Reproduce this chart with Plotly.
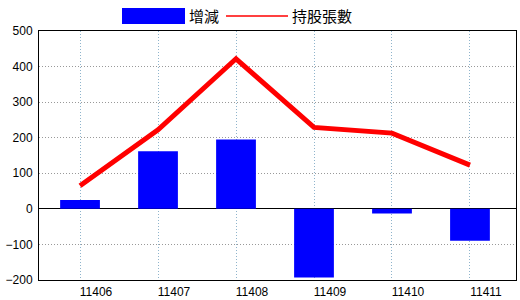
import plotly.graph_objects as go

categories = ["11406", "11407", "11408", "11409", "11410", "11411"]
change_values = [25, 162, 195, -193, -13, -90]
holding_values = [65, 222, 422, 229, 213, 123]
y_ticks = [-200, -100, 0, 100, 200, 300, 400, 500]

x_idx = list(range(len(categories)))

fig = go.Figure()
fig.add_trace(go.Bar(x=x_idx, y=change_values, name="增減", marker=dict(color="#0000FF", line=dict(width=0)),
                     width=0.51, showlegend=False))
fig.add_trace(go.Scatter(x=x_idx, y=holding_values, name="持股張數", mode="lines",
                         line=dict(color="#FF0000", width=5), showlegend=False))

font_family = "Liberation Sans Narrow, Arial, sans-serif"

fig.update_layout(
    width=520, height=300,
    margin=dict(l=39, r=4, t=31, b=20),
    plot_bgcolor="white", paper_bgcolor="white",
    font=dict(family=font_family, size=12, color="black"),
    xaxis=dict(
        tickmode="array", tickvals=x_idx, ticktext=categories,
        range=[-0.526, 5.59], showgrid=True, gridcolor="#8FB4CC", griddash="1px,2px", gridwidth=1,
        showline=True, linecolor="black", linewidth=1, mirror=True, ticks="",
        ticklabelshift=16, ticklabelstandoff=1, zeroline=False, automargin=False,
        tickfont=dict(family=font_family, size=12),
    ),
    yaxis=dict(
        range=[-200, 500], tickvals=y_ticks, showgrid=True, gridcolor="#999999", griddash="1px,2px", gridwidth=1,
        showline=True, linecolor="black", linewidth=1, mirror=True, ticks="",
        zeroline=True, zerolinecolor="black", zerolinewidth=1, ticklabelstandoff=3, automargin=False,
        tickfont=dict(family=font_family, size=12),
    ),
    bargap=0.49,
)

# Legend drawn manually (top center)
fig.add_shape(type="rect", xref="paper", yref="paper",
              x0=(122-39)/477, x1=(185-39)/477, y0=(280-24)/249, y1=(280-8)/249,
              fillcolor="#0000FF", line=dict(width=0))
fig.add_shape(type="line", xref="paper", yref="paper",
              x0=(226-39)/477, x1=(288-39)/477, y0=(280-16)/249, y1=(280-16)/249,
              line=dict(color="#FF0000", width=1.5))
fig.add_annotation(text="增減", xref="paper", yref="paper", x=(187-39)/477, y=(280-16)/249,
                   xanchor="left", yanchor="middle", showarrow=False,
                   font=dict(family="Noto Sans CJK TC", size=15, color="black"))
fig.add_annotation(text="持股張數", xref="paper", yref="paper", x=(290-39)/477, y=(280-16)/249,
                   xanchor="left", yanchor="middle", showarrow=False,
                   font=dict(family="Noto Sans CJK TC", size=15, color="black"))

fig.write_html("out.html")
